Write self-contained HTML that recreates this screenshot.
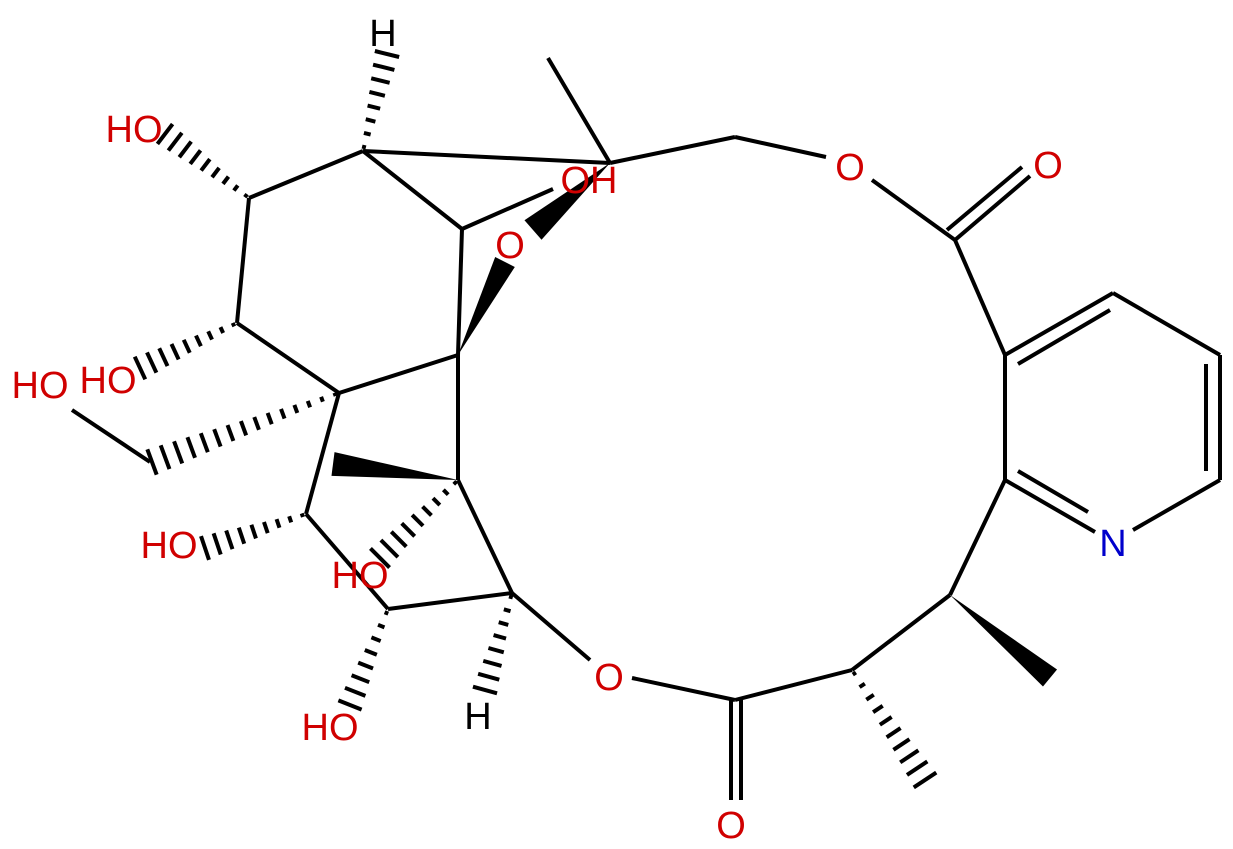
<!DOCTYPE html>
<html><head><meta charset="utf-8"><style>
body{margin:0;background:#fff}
svg{display:block}
text{font-family:"Liberation Sans",sans-serif;font-size:38px;text-anchor:middle}
.r{fill:#d00000}
</style></head><body>
<svg id="s" width="1233" height="849" viewBox="0 0 1233 849" xmlns="http://www.w3.org/2000/svg">
<g id="b" stroke="#000" stroke-width="4" stroke-linecap="butt" fill="none">
<line x1="363" y1="151" x2="249" y2="198"/>
<line x1="249" y1="198" x2="237" y2="323"/>
<line x1="237" y1="323" x2="339" y2="393"/>
<line x1="339" y1="393" x2="458" y2="355"/>
<line x1="363" y1="151" x2="462" y2="229"/>
<line x1="462" y1="229" x2="458" y2="355"/>
<line x1="363" y1="151" x2="610" y2="163"/>
<line x1="610" y1="163" x2="548" y2="58"/>
<line x1="610" y1="163" x2="735" y2="137"/>
<line x1="735" y1="137" x2="826" y2="157"/>
<line x1="872" y1="180" x2="955" y2="240"/>
<line x1="955" y1="240" x2="1030" y2="176"/>
<line x1="947" y1="230" x2="1022" y2="167"/>
<line x1="955" y1="240" x2="1005" y2="355"/>
<line x1="1005" y1="355" x2="1113" y2="293"/>
<line x1="1018" y1="364" x2="1110" y2="310"/>
<line x1="1113" y1="293" x2="1220" y2="355"/>
<line x1="1220" y1="355" x2="1220" y2="480"/>
<line x1="1206" y1="364" x2="1206" y2="471"/>
<line x1="1220" y1="480" x2="1133" y2="530"/>
<line x1="1005" y1="480" x2="1095" y2="532"/>
<line x1="1018" y1="471" x2="1088" y2="512"/>
<line x1="1005" y1="480" x2="1005" y2="355"/>
<line x1="1005" y1="480" x2="950" y2="595"/>
<line x1="950" y1="595" x2="852" y2="670"/>
<line x1="852" y1="670" x2="735" y2="700"/>
<line x1="731" y1="700" x2="731" y2="800"/>
<line x1="741" y1="700" x2="741" y2="800"/>
<line x1="735" y1="700" x2="632" y2="678"/>
<line x1="590" y1="660" x2="512" y2="593"/>
<line x1="512" y1="593" x2="388" y2="609"/>
<line x1="388" y1="609" x2="306" y2="514"/>
<line x1="306" y1="514" x2="339" y2="393"/>
<line x1="512" y1="593" x2="458" y2="480"/>
<line x1="458" y1="480" x2="458" y2="355"/>
<line x1="462" y1="229" x2="553" y2="189"/>
<line x1="150" y1="462" x2="72" y2="410"/>
</g>
<g id="w" fill="#000"></g>
<text x="383" y="46">H</text>
<text class="r" x="134" y="142">HO</text>
<text class="r" x="108" y="393">HO</text>
<text class="r" x="40" y="398">HO</text>
<text class="r" x="169" y="558">HO</text>
<text class="r" x="360" y="588">HO</text>
<text class="r" x="330" y="740">HO</text>
<text x="478" y="729">H</text>
<text class="r" x="609" y="690">O</text>
<text class="r" x="510" y="258">O</text>
<text class="r" x="589" y="193">OH</text>
<text class="r" x="850" y="180">O</text>
<text class="r" x="1048" y="178">O</text>
<text x="1113" y="556" style="fill:#0000cc">N</text>
<text class="r" x="731" y="838">O</text>
</svg>
<script>
var NS="http://www.w3.org/2000/svg",g=document.getElementById("w");
function wedge(x1,y1,x2,y2,w){var dx=x2-x1,dy=y2-y1,L=Math.hypot(dx,dy),px=-dy/L*w,py=dx/L*w;
var p=document.createElementNS(NS,"polygon");p.setAttribute("points",x1+","+y1+" "+(x2+px)+","+(y2+py)+" "+(x2-px)+","+(y2-py));g.appendChild(p);}
function hash(x1,y1,x2,y2,w){var dx=x2-x1,dy=y2-y1,L=Math.hypot(dx,dy),ux=dx/L,uy=dy/L,n=Math.max(5,Math.round(L/14));
for(var i=0;i<=n;i++){var t=(i+0.3)/(n+0.3),cx=x1+dx*t,cy=y1+dy*t,h=1.5+w*t;
var l=document.createElementNS(NS,"line");l.setAttribute("x1",cx-uy*h);l.setAttribute("y1",cy+ux*h);l.setAttribute("x2",cx+uy*h);l.setAttribute("y2",cy-ux*h);
l.setAttribute("stroke","#000");l.setAttribute("stroke-width","4");g.appendChild(l);}}
wedge(458,355,505,262,11);
wedge(610,163,533,230,13);
wedge(458,480,333,464,12);
wedge(950,595,1050,678,11);
hash(363,151,387,54,11);
hash(249,198,165,134,11);
hash(237,323,140,368,11);
hash(339,393,152,462,12);
hash(458,480,380,558,12);
hash(306,514,205,548,11);
hash(388,609,350,705,11);
hash(512,593,485,690,11);
hash(852,670,925,780,12);
</script>
</body></html>
